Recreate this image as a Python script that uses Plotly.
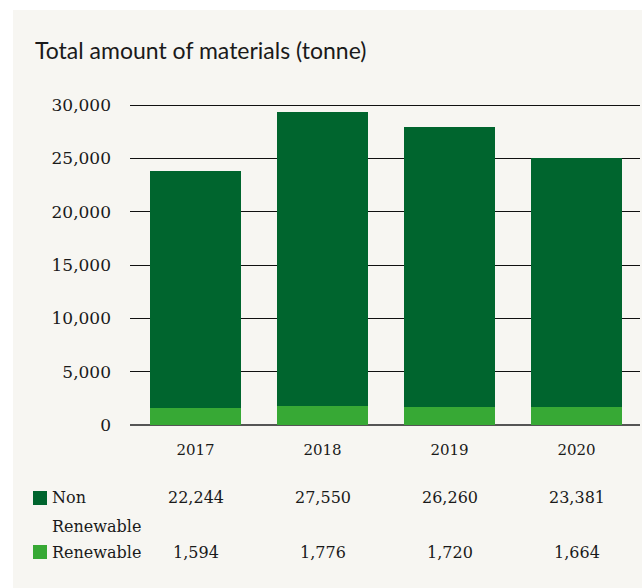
import plotly.graph_objects as go

years = ["2017", "2018", "2019", "2020"]
non_renewable = [22244, 27550, 26260, 23381]
renewable = [1594, 1776, 1720, 1664]
y_ticks = [0, 5000, 10000, 15000, 20000, 25000, 30000]
y_tick_labels = ["0", "5,000", "10,000", "15,000", "20,000", "25,000", "30,000"]

DARK = "#00652E"
LIGHT = "#37A935"
TEXT = "#1A1A1A"
PANEL = "#F7F6F2"
SERIF = "DejaVu Serif"

FIG_W, FIG_H = 642, 588
PLOT_L, PLOT_R = 130, 640
PLOT_T, PLOT_B = 101, 425
TOP_TICK_PX = 105  # pixel row of the 30,000 gridline

W_PLOT = float(PLOT_R - PLOT_L)
H_PLOT = float(PLOT_B - PLOT_T)
Y_MAX = y_ticks[-1] * H_PLOT / (PLOT_B - TOP_TICK_PX)

def px_x(px):
    return (px - PLOT_L) / W_PLOT

def px_y(py):
    return (PLOT_B - py) / H_PLOT

fig = go.Figure()
fig.add_trace(go.Bar(x=list(range(len(years))), y=renewable, name="Renewable",
                     marker_color=LIGHT, marker_line_width=0, hoverinfo="skip"))
fig.add_trace(go.Bar(x=list(range(len(years))), y=non_renewable, name="Non Renewable",
                     marker_color=DARK, marker_line_width=0, hoverinfo="skip"))

shapes = [
    dict(type="rect", xref="paper", yref="paper", x0=px_x(13), x1=px_x(700),
         y0=px_y(640), y1=px_y(10), fillcolor=PANEL, line_width=0, layer="below"),
    dict(type="rect", xref="paper", yref="paper", x0=px_x(33), x1=px_x(47),
         y0=px_y(505), y1=px_y(491), fillcolor=DARK, line_width=0),
    dict(type="rect", xref="paper", yref="paper", x0=px_x(33), x1=px_x(47),
         y0=px_y(559), y1=px_y(545), fillcolor=LIGHT, line_width=0),
]

annotations = [
    dict(text="Total amount of materials (tonne)", xref="paper", yref="paper",
         x=px_x(33), y=px_y(50), xanchor="left", yanchor="middle", showarrow=False,
         font=dict(family="Lato", size=23, color=TEXT)),
    dict(text="Non", xref="paper", yref="paper", x=px_x(50), y=px_y(498),
         xanchor="left", yanchor="middle", showarrow=False,
         font=dict(family=SERIF, size=16, color=TEXT)),
    dict(text="Renewable", xref="paper", yref="paper", x=px_x(50), y=px_y(526),
         xanchor="left", yanchor="middle", showarrow=False,
         font=dict(family=SERIF, size=16, color=TEXT)),
    dict(text="Renewable", xref="paper", yref="paper", x=px_x(50), y=px_y(552),
         xanchor="left", yanchor="middle", showarrow=False,
         font=dict(family=SERIF, size=16, color=TEXT)),
]
for i, (nv, rv) in enumerate(zip(non_renewable, renewable)):
    annotations.append(dict(text=f"{nv:,}", xref="x", yref="paper", x=i, y=px_y(498),
                            xanchor="center", yanchor="middle", showarrow=False,
                            font=dict(family=SERIF, size=16, color=TEXT)))
    annotations.append(dict(text=f"{rv:,}", xref="x", yref="paper", x=i, y=px_y(552),
                            xanchor="center", yanchor="middle", showarrow=False,
                            font=dict(family=SERIF, size=16, color=TEXT)))

fig.update_layout(
    width=FIG_W, height=FIG_H,
    margin=dict(l=PLOT_L, r=FIG_W - PLOT_R, t=PLOT_T, b=FIG_H - PLOT_B, pad=0),
    paper_bgcolor="white", plot_bgcolor="rgba(0,0,0,0)",
    barmode="stack", bargap=0.283,
    showlegend=False,
    shapes=shapes, annotations=annotations,
    xaxis=dict(range=[-0.516, 3.5], tickvals=list(range(len(years))), ticktext=years,
               showgrid=False, showline=False, zeroline=False,
               tickfont=dict(family=SERIF, size=15, color=TEXT), ticks="",
               ticklabelstandoff=14, fixedrange=True),
    yaxis=dict(range=[0, Y_MAX], tickvals=y_ticks, ticktext=y_tick_labels,
               showgrid=True, gridcolor="#111111", gridwidth=1,
               zeroline=True, zerolinecolor="#555555", zerolinewidth=2,
               showline=False, ticks="",
               tickfont=dict(family=SERIF, size=17, color=TEXT),
               ticklabelstandoff=18, fixedrange=True),
)

fig.write_html(
    "out.html",
    config={"displayModeBar": False, "staticPlot": True},
    post_script="document.body.style.margin='0';document.body.style.overflow='hidden';",
)
